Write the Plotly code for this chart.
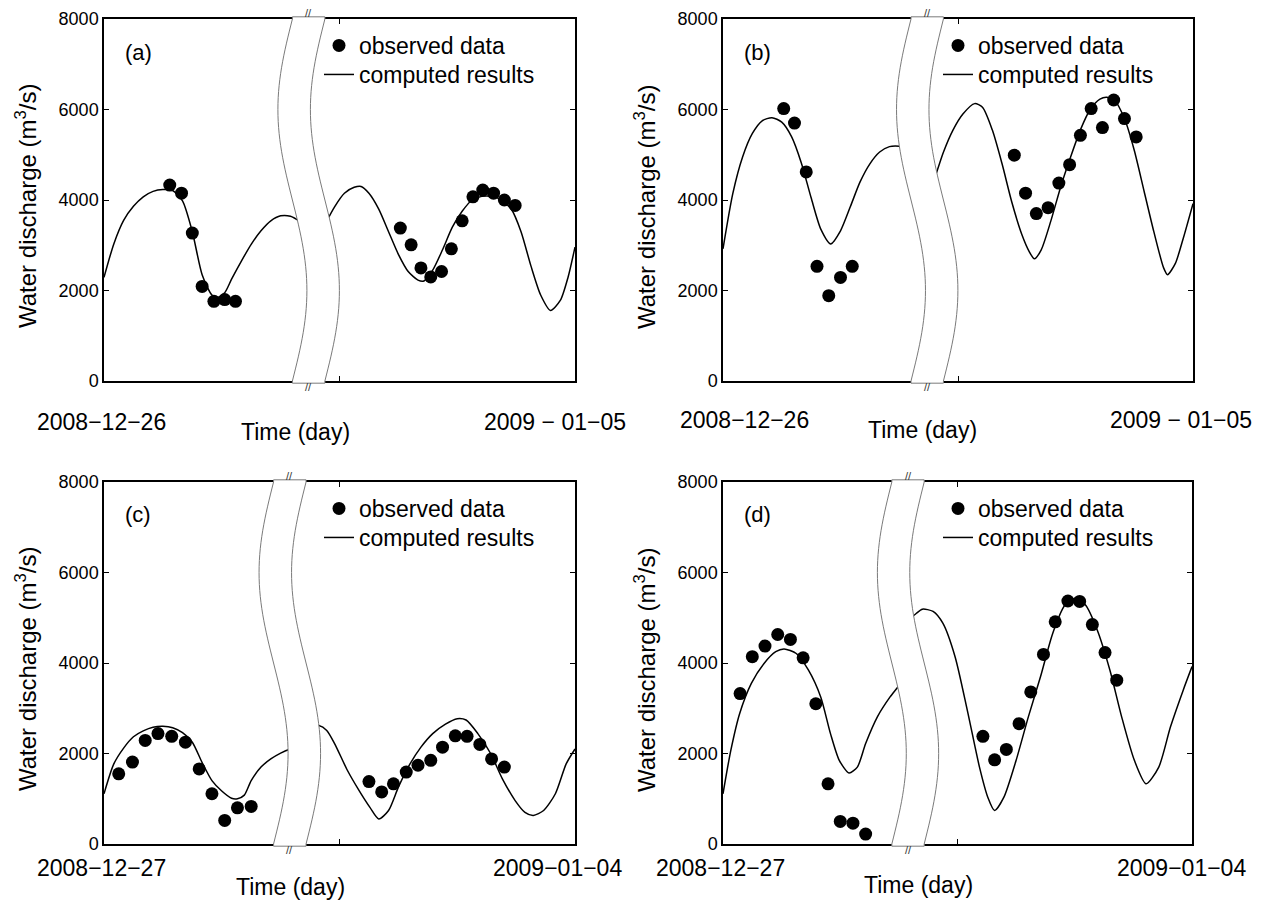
import math
import plotly.graph_objects as go

W, H = 1269, 901
OFF = 8  # page body margin of the browser: figure starts 8 px right/down
FONT = "Liberation Sans, Arial, Helvetica, sans-serif"

# ---------------- data: hours from start of the plotted window, discharge m^3/s ----------------
# Panel (a)
a_model_left_h = [0, 1, 2, 3, 4, 5, 6, 7, 8, 9, 10, 11, 11.6, 12.3, 13, 14, 15, 16, 17, 18, 19, 20, 21]
a_model_left_q = [2290, 3030, 3550, 3860, 4070, 4190, 4230, 4210, 3980, 3300, 2350, 1900, 1850, 1950, 2250,
                  2650, 3020, 3320, 3540, 3650, 3640, 3520, 3350]
a_model_right_h = [21.5, 22.5, 23.5, 24.5, 25.5, 26.2, 27, 28, 29, 30, 31, 32, 32.6, 33.5, 34.5, 35.5, 36.5,
                   37.5, 38.5, 39.5, 40.5, 41.5, 42.5, 43.5, 44.5, 45.5, 46.5, 47.3, 48]
a_model_right_q = [3000, 3450, 3850, 4150, 4280, 4300, 4150, 3800, 3300, 2800, 2420, 2230, 2210, 2450, 2900,
                   3400, 3750, 4000, 4080, 4080, 4000, 3800, 3300, 2550, 1900, 1560, 1780, 2300, 2960]
a_obs_h = [6.7, 7.9, 9.0, 10.0, 11.2, 12.3, 13.4,
           30.2, 31.3, 32.3, 33.3, 34.4, 35.4, 36.5, 37.6, 38.6, 39.7, 40.8, 41.9]
a_obs_q = [4330, 4150, 3270, 2090, 1760, 1800, 1760,
           3380, 3010, 2500, 2300, 2420, 2920, 3540, 4070, 4220, 4150, 4000, 3880]

# Panel (b)
b_model_left_h = [0, 1, 2, 3, 4, 5, 6, 7, 8, 9, 10, 11, 12, 13, 14, 15, 16, 17, 18, 19, 20]
b_model_left_q = [2920, 4140, 4950, 5470, 5750, 5820, 5720, 5400, 4820, 4050, 3350, 3030, 3320, 3850, 4400,
                  4800, 5060, 5180, 5190, 5150, 5000]
b_model_right_h = [20.5, 21.5, 22.5, 23.5, 24.5, 25.7, 26.5, 27.5, 28.5, 29.5, 30.5, 31.3, 31.8, 32.5, 33.5,
                   34.5, 35.5, 36.5, 37.5, 38.5, 39.2, 40, 41, 42, 43, 44, 45, 45.4, 46.2, 47, 48]
b_model_right_q = [3800, 4400, 5050, 5550, 5900, 6130, 6050, 5550, 4800, 3950, 3250, 2850, 2700, 2900, 3550,
                   4300, 4950, 5550, 6000, 6230, 6270, 6200, 5800, 5100, 4200, 3300, 2500, 2350, 2600, 3150, 3920]
b_obs_h = [6.2, 7.3, 8.5, 9.6, 10.8, 12.0, 13.2,
           29.75, 30.9, 32.0, 33.2, 34.3, 35.4, 36.5, 37.6, 38.75, 39.9, 41.0, 42.2]
b_obs_q = [6020, 5700, 4620, 2535, 1885, 2290, 2535,
           4990, 4150, 3700, 3830, 4375, 4780, 5430, 6020, 5600, 6210, 5800, 5395]

# Panel (c)
c_model_left_h = [0, 1, 2, 3, 4, 5, 6, 7, 8, 9, 10, 11, 12, 13, 13.6, 14.3, 15, 16, 17, 18, 19, 20]
c_model_left_q = [1110, 1770, 2120, 2370, 2500, 2580, 2600, 2570, 2460, 2250, 1800, 1400, 1170, 1010, 1000,
                  1080, 1400, 1700, 1880, 2010, 2100, 2150]
c_model_right_h = [21, 21.9, 22.7, 23.5, 24.8, 26, 27.1, 28, 29, 30, 31, 32.3, 33.5, 34.8, 36, 36.9, 38.1,
                   39.4, 40.6, 41.9, 42.9, 43.75, 44.8, 46, 47.1, 48]
c_model_right_q = [2600, 2620, 2510, 2220, 1630, 1180, 810, 555, 740, 1256, 1700, 2140, 2440, 2650, 2770,
                   2740, 2440, 2000, 1440, 960, 700, 630, 740, 1110, 1770, 2100]
c_obs_h = [1.5, 2.9, 4.2, 5.5, 6.9, 8.3, 9.7, 11.0, 12.3, 13.6, 15.0,
           27.0, 28.3, 29.5, 30.8, 32.0, 33.3, 34.5, 35.8, 37.0, 38.3, 39.5, 40.8]
c_obs_q = [1550, 1810, 2290, 2440, 2380, 2250, 1660, 1110, 520, 800, 830,
           1380, 1150, 1330, 1590, 1740, 1850, 2140, 2390, 2380, 2200, 1880, 1700]

# Panel (d)
d_model_left_h = [0, 0.8, 1.7, 2.9, 4.2, 5.4, 6.25, 7.5, 8.75, 10, 11, 11.9, 12.9, 13.75, 14.6, 15.8, 17.1,
                  17.9, 19]
d_model_left_q = [1110, 2070, 2880, 3550, 3990, 4250, 4310, 4210, 3840, 3250, 2440, 1850, 1570, 1700, 2220,
                  2810, 3250, 3470, 3800]
d_model_right_h = [19, 19.8, 20.4, 21.5, 22.5, 23.75, 25, 26.25, 27.1, 27.8, 28.75, 30, 31.25, 32.5, 33.75,
                   35, 36, 37.1, 38.3, 39.6, 40.8, 42.1, 43.3, 44.6, 45.8, 47.1, 48]
d_model_right_q = [4950, 5100, 5190, 5140, 4880, 4140, 2960, 1700, 1035, 740, 1035, 1850, 2810, 3700, 4660,
                   5280, 5430, 5280, 4730, 3840, 2810, 1850, 1330, 1700, 2590, 3400, 3920]
d_obs_h = [1.75, 3.0, 4.3, 5.6, 6.9, 8.2, 9.5, 10.75, 12.0, 13.3, 14.6,
           26.6, 27.8, 29.0, 30.3, 31.5, 32.8, 34.0, 35.3, 36.5, 37.8, 39.1, 40.3]
d_obs_q = [3325, 4140, 4375, 4630, 4520, 4115, 3100, 1330, 500, 460, 220,
           2380, 1860, 2090, 2660, 3360, 4190, 4910, 5370, 5360, 4850, 4230, 3620]

panel_labels = ["(a)", "(b)", "(c)", "(d)"]
start_labels = ["2008−12−26", "2008−12−26", "2008−12−27", "2008−12−27"]
end_labels = ["2009 − 01−05", "2009 − 01−05", "2009−01−04", "2009−01−04"]
obs_name = "observed data"
model_name = "computed results"
x_title = "Time (day)"
y_title = "Water discharge (m<sup>3</sup>/s)"
y_ticks = [0, 2000, 4000, 6000, 8000]
x_range = [0, 48]
y_range = [0, 8000]
x_tick = [24]

models = [
    (a_model_left_h, a_model_left_q, a_model_right_h, a_model_right_q),
    (b_model_left_h, b_model_left_q, b_model_right_h, b_model_right_q),
    (c_model_left_h, c_model_left_q, c_model_right_h, c_model_right_q),
    (d_model_left_h, d_model_left_q, d_model_right_h, d_model_right_q),
]
observations = [(a_obs_h, a_obs_q), (b_obs_h, b_obs_q), (c_obs_h, c_obs_q), (d_obs_h, d_obs_q)]

# ---------------- layout geometry (screen pixels: left, top, right, bottom) ----------------
boxes = [(104, 19, 575, 381), (723, 19, 1193, 381), (104, 482, 575, 844), (723, 482, 1192, 844)]
band_centre = [0.400, 0.400, 0.360, 0.360]   # left border centre, fraction of axis width
BAND_AMP = 0.0308
BAND_W = 0.069
# label placement offsets (screen px) relative to each box
start_dx = [-69, -45, -69, -69]
end_dx = [53, 61, 49, 56]
time_dx = [191, 199, 186, 195]
date_dy = [41, 39, 24, 24]
time_dy = [51, 49, 43, 41]
legend_rows = [26, 55]   # centre of legend rows below box top

fig = go.Figure()
layout = dict(
    width=W, height=H, autosize=False, showlegend=True,
    margin=dict(l=0, r=0, t=0, b=0, pad=0, autoexpand=False),
    paper_bgcolor="white", plot_bgcolor="white",
    font=dict(family=FONT, color="black"),
    shapes=[], annotations=[],
)


def px(x):
    return (x - OFF) / W


def py(y):
    return 1 - (y - OFF) / H


for i in range(4):
    n = i + 1
    sfx = "" if n == 1 else str(n)
    xa, ya = "x" + sfx, "y" + sfx
    lg_obs = "legend" if n == 1 else f"legend{2 * n - 1}"
    lg_mod = f"legend{2 * n}"
    L, T, R, B = boxes[i]
    lh, lq, rh, rq = models[i]
    mh = list(lh) + [None] + list(rh)
    mq = list(lq) + [None] + list(rq)
    oh, oq = observations[i]

    fig.add_trace(go.Scatter(
        x=oh, y=oq, mode="markers", name=obs_name, showlegend=True,
        marker=dict(color="black", size=13, line=dict(width=0)),
        xaxis=xa, yaxis=ya, legend=lg_obs, cliponaxis=False))
    fig.add_trace(go.Scatter(
        x=mh, y=mq, mode="lines", name=model_name, showlegend=True,
        line=dict(color="black", width=1.5, shape="spline", smoothing=0.7),
        connectgaps=False, xaxis=xa, yaxis=ya, legend=lg_mod))

    layout["xaxis" + sfx] = dict(
        domain=[px(L), px(R)], range=x_range, anchor=ya, automargin=False,
        showgrid=False, zeroline=False, showline=True, linecolor="black", linewidth=1.5,
        mirror="ticks", ticks="inside", ticklen=5, tickcolor="black", tickwidth=1,
        tickvals=x_tick, showticklabels=False)
    layout["yaxis" + sfx] = dict(
        domain=[py(B), py(T)], range=y_range, anchor=xa, automargin=False,
        showgrid=False, zeroline=False, showline=True, linecolor="black", linewidth=1.5,
        mirror="ticks", ticks="inside", ticklen=5, tickcolor="black", tickwidth=1,
        tickvals=y_ticks, ticktext=[str(v) for v in y_ticks],
        tickfont=dict(size=18, family=FONT, color="black"))

    for lg, row in [(lg_obs, legend_rows[0]), (lg_mod, legend_rows[1])]:
        layout[lg] = dict(
            x=px(L + 215), y=py(T + row - 21), xanchor="left", yanchor="top",
            bgcolor="rgba(0,0,0,0)", borderwidth=0, visible=True,
            font=dict(size=23, family=FONT, color="black"),
            tracegroupgap=0, itemwidth=30)

    # axis break band (wavy white strip with grey borders)
    c = band_centre[i]
    nseg = 60
    left_pts = []
    for k in range(nseg + 1):
        t = k / nseg
        left_pts.append((c + BAND_AMP * math.sin(2 * math.pi * t), t))
    ext = 0.006
    pts = [(left_pts[0][0], -ext)] + left_pts + [(left_pts[-1][0], 1 + ext)]
    right = [(xx + BAND_W, yy) for xx, yy in reversed(pts)]
    allp = pts + right
    path = "M" + " L".join(f"{xx:.5f},{yy:.5f}" for xx, yy in allp) + " Z"
    layout["shapes"].append(dict(
        type="path", path=path, xref=xa + " domain", yref=ya + " domain",
        fillcolor="white", line=dict(color="#7a7a7a", width=1), layer="above"))
    mid = c + BAND_W / 2
    for yy, anc, shift in [(1, "bottom", -2), (0, "top", 2)]:
        layout["annotations"].append(dict(
            text="//", x=mid, y=yy, xref=xa + " domain", yref=ya + " domain",
            xanchor="center", yanchor=anc, yshift=shift, showarrow=False,
            font=dict(size=11, family=FONT, color="#333333")))

    # panel label
    layout["annotations"].append(dict(
        text=panel_labels[i], x=px(L + 34), y=py(T + 33), xref="paper", yref="paper",
        xanchor="center", yanchor="middle", showarrow=False,
        font=dict(size=22, family=FONT, color="black")))
    # y title
    layout["annotations"].append(dict(
        text=y_title, textangle=-90,
        x=px(L - 78), y=py((T + B) / 2 + 6), xref="paper", yref="paper",
        xanchor="center", yanchor="middle", showarrow=False,
        font=dict(size=24, family=FONT, color="black")))
    # x labels
    layout["annotations"].append(dict(
        text=start_labels[i], x=px(L + start_dx[i]), y=py(B + date_dy[i]), xref="paper", yref="paper",
        xanchor="left", yanchor="middle", showarrow=False,
        font=dict(size=23, family=FONT, color="black")))
    layout["annotations"].append(dict(
        text=end_labels[i], x=px(R + end_dx[i]), y=py(B + date_dy[i]), xref="paper", yref="paper",
        xanchor="right", yanchor="middle", showarrow=False,
        font=dict(size=23, family=FONT, color="black")))
    layout["annotations"].append(dict(
        text=x_title, x=px(L + time_dx[i]), y=py(B + time_dy[i]), xref="paper", yref="paper",
        xanchor="center", yanchor="middle", showarrow=False,
        font=dict(size=23, family=FONT, color="black")))

fig.update_layout(**layout)
fig.write_html("out.html")
